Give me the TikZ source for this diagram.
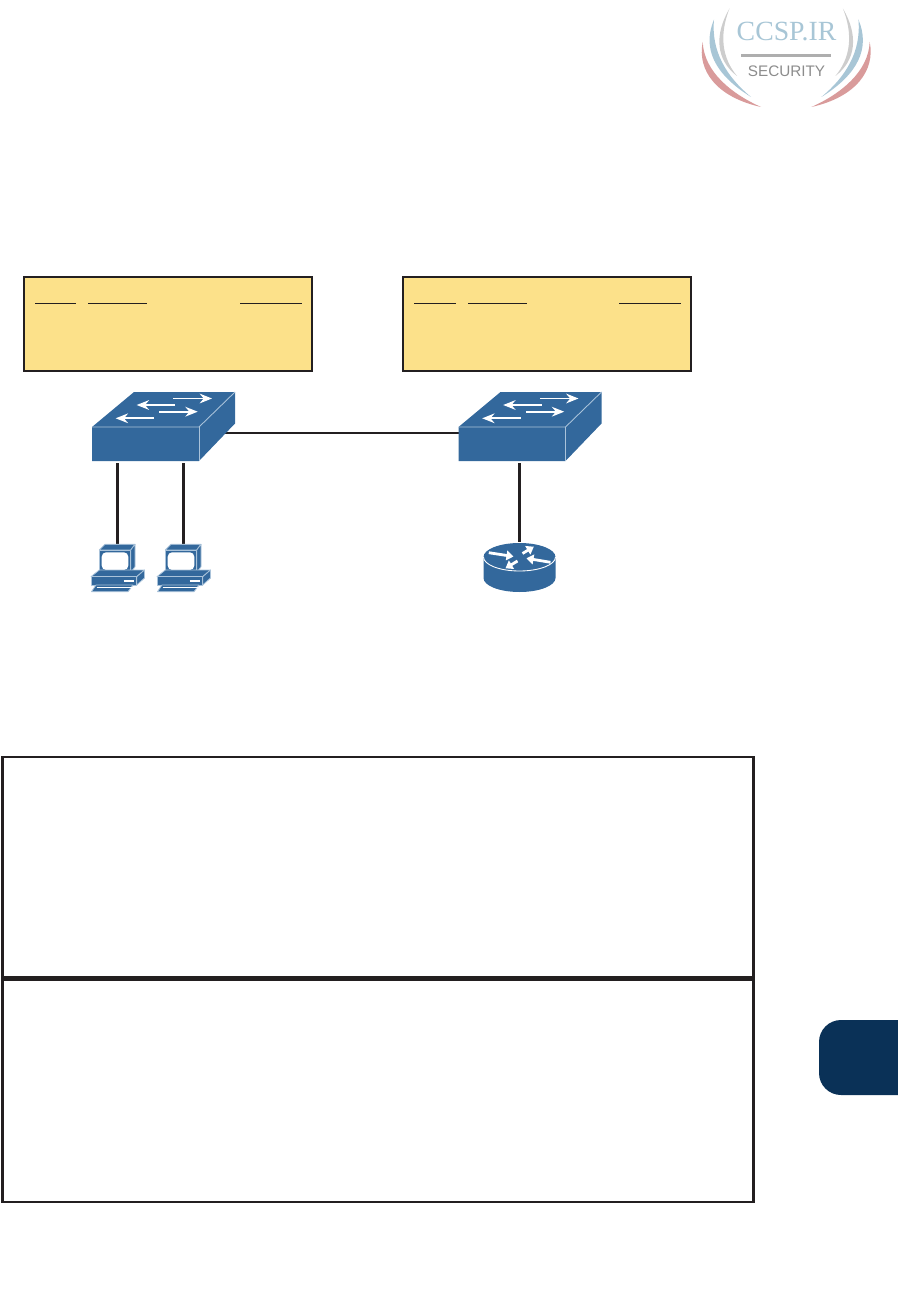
\documentclass[tikz,border=0pt]{standalone}
\usepackage{fontspec}
\usepackage{tikz}
\usetikzlibrary{arrows.meta}
\newfontfamily\logoserif{Liberation Serif}
\newfontfamily\logosans{Liberation Sans}
\definecolor{devblue}{RGB}{51,104,156}
\definecolor{devedge}{RGB}{170,195,218}
\definecolor{tableyellow}{RGB}{252,225,138}
\definecolor{inkblack}{RGB}{35,31,32}
\definecolor{tabnavy}{RGB}{10,49,87}
\definecolor{logoblue}{RGB}{168,198,214}
\definecolor{logored}{RGB}{217,155,155}
\definecolor{logogray}{RGB}{205,205,205}
\tikzset{
    tablebox/.style={
        draw=inkblack,
        line width=1.3pt,
        fill=tableyellow,
        minimum width=5.76cm,
        minimum height=1.88cm,
        inner sep=0pt
    },
    headrule/.style={
        line width=0.7pt,
        inkblack
    },
    lanlink/.style={
        line width=1.3pt,
        inkblack
    },
    swbox/.style={minimum width=2.86cm, minimum height=1.38cm, inner sep=0pt},
    pcbox/.style={minimum width=1.06cm, minimum height=0.96cm, inner sep=0pt},
    routerbox/.style={minimum width=1.46cm, minimum height=1cm, inner sep=0pt},
    devface/.style={fill=devblue, draw=devedge, line width=0.45pt, line join=round},
    swarrow/.style={
        line width=1.1pt,
        white,
        -{Stealth[length=7pt, width=5.5pt]}
    },
    rtarrow/.style={
        line width=1.6pt,
        white,
        -{Triangle[length=4pt, width=5.5pt]}
    },
    lanswitch/.pic={
        \fill[devblue] (-71.5,0.5) -- (-29.5,-34.5) -- (71.5,-34.5) -- (71.5,-3) -- (35.5,34.5) -- (-71.5,34.5) -- cycle;
        \draw[devedge,line width=0.5pt] (-71.5,0.5) -- (35.5,0.5) -- (71.5,-34.5);
        \draw[devedge,line width=0.5pt] (35.5,0.5) -- (35.5,34.5);
        \draw[swarrow] (9.8,-28) -- (48.5,-28);
        \draw[swarrow] (11.5,-21.5) -- (-26.8,-21.5);
        \draw[swarrow] (-4.2,-14.8) -- (34.2,-14.8);
        \draw[swarrow] (-9.5,-8.2) -- (-47.8,-8.2);
    },
    lanpc/.pic={
        \draw[devface] (-18.2,-18) -- (-12.5,-23.7) -- (17.5,-23.7) -- (13.2,-18) -- cycle;
        \draw[devface] (13.2,-18) -- (17.5,-23.7) -- (17.5,-1.3) -- (13.2,4.7) -- cycle;
        \draw[devface] (-18.2,-18) rectangle (13.2,4.7);
        \fill[white,rounded corners=2.5pt] (-15.8,-15.7) rectangle (10.8,2);
        \draw[devface] (-26.5,8.7) -- (-18.2,2) -- (27,2) -- (19.2,8.7) -- cycle;
        \draw[devface] (19.2,8.7) -- (27,2) -- (27,10) -- (19.2,17) -- cycle;
        \draw[devface] (-26.5,8.7) rectangle (19.2,17);
        \draw[white,line width=0.6pt] (6,13) -- (16,13);
        \draw[devface] (-21.5,17) -- (15.5,17) -- (10.5,23.7) -- (-26,23.7) -- cycle;
        \draw[white,line width=0.5pt] (-21,19.6) -- (14,19.6);
    },
    lanrouter/.pic={
        \fill[devblue] (-36,-10.5) -- (-36,10.5) arc[start angle=180, end angle=0, x radius=36, y radius=14] -- (36,-10.5) -- cycle;
        \fill[devblue] (0,-10.5) ellipse [x radius=36, y radius=14];
        \draw[white,line width=0.5pt] (-36,-10.5) arc[start angle=180, end angle=0, x radius=36, y radius=14];
        \draw[rtarrow] (-30.7,-14.8) -- (-6,-11);
        \draw[rtarrow] (3,-14) -- (14.3,-20.8);
        \draw[rtarrow] (31,-5.2) -- (7,-9.2);
        \draw[rtarrow] (-2,-6.5) -- (-14,0.8);
    },
    logoarcs/.pic={
        \fill[logogray] (729.5,8.5) .. controls (714,35) and (716,60) .. (737,76) .. controls (722,58) and (719,35) .. cycle;
        \fill[logoblue] (714,19.5) .. controls (702,48) and (714,74) .. (751,97) .. controls (727,77) and (711,52) .. cycle;
        \fill[logored] (702.7,42) .. controls (697,70) and (716,97) .. (761,107) .. controls (732,94) and (704,72) .. cycle;
    }
}
\begin{document}
\begin{tikzpicture}[x=0.02cm,y=-0.02cm]
    \useasboundingbox (0,0) rectangle (898,1314);

    % logo
    \pic at (0,0) {logoarcs};
    \pic[xscale=-1] at (1572.4,0) {logoarcs};
    \node[text=logoblue,font=\logoserif\fontsize{15.8pt}{15.8pt}\selectfont] (logotop) at (786.5,32) {CCSP.IR};
    \draw[logogray!85!black,line width=1.6pt] (741,55.5) -- (831,55.5);
    \node[text=gray!90,font=\logosans\fontsize{8.7pt}{8.7pt}\selectfont] (logosub) at (786.5,71) {SECURITY};

    % tables over the switches
    \node[tablebox] (tbl1) at (168,324) {};
    \node[tablebox] (tbl2) at (547,324) {};
    \draw[headrule] (35,303.5) -- (76,303.5);
    \draw[headrule] (88,303.5) -- (147,303.5);
    \draw[headrule] (240,303.5) -- (302,303.5);
    \draw[headrule] (414,303.5) -- (456,303.5);
    \draw[headrule] (468,303.5) -- (527,303.5);
    \draw[headrule] (619,303.5) -- (681,303.5);

    \node[swbox] (sw1) at (163.5,426.5) {};
    \node[swbox] (sw2) at (530,426.5) {};
    \node[pcbox] (pc1) at (117.5,568) {};
    \node[pcbox] (pc2) at (183.5,568) {};
    \node[routerbox] (rt1) at (519.5,567.5) {};
    \coordinate (trunk) at (340,433);

    \draw[lanlink] (sw1.center |- trunk) -- (sw2.center |- trunk);
    \draw[lanlink,shorten <=1.1pt] (pc1.north |- sw1.south) -- (pc1.north);
    \draw[lanlink,shorten <=1.1pt] (pc2.north |- sw1.south) -- (pc2.north);
    \draw[lanlink,shorten <=1.1pt] (rt1.north |- sw2.south) -- (rt1.north);

    \pic at (sw1) {lanswitch};
    \pic at (sw2) {lanswitch};
    \pic at (pc1) {lanpc};
    \pic at (pc2) {lanpc};
    \pic at (rt1) {lanrouter};

    % lower table
    \node[draw=inkblack,line width=1.4pt,minimum width=15.02cm,minimum height=8.9cm,inner sep=0pt] (bigbox) at (378,979.5) {};
    \draw[inkblack,line width=2.6pt] (bigbox.west |- 0,978.7) -- (bigbox.east |- 0,978.7);

    % page tab
    \fill[tabnavy] (898,1020) -- (841,1020) arc[start angle=-90, end angle=-180, radius=22] -- (819,1073) arc[start angle=180, end angle=90, radius=22] -- (898,1095) -- cycle;
\end{tikzpicture}
\end{document}
